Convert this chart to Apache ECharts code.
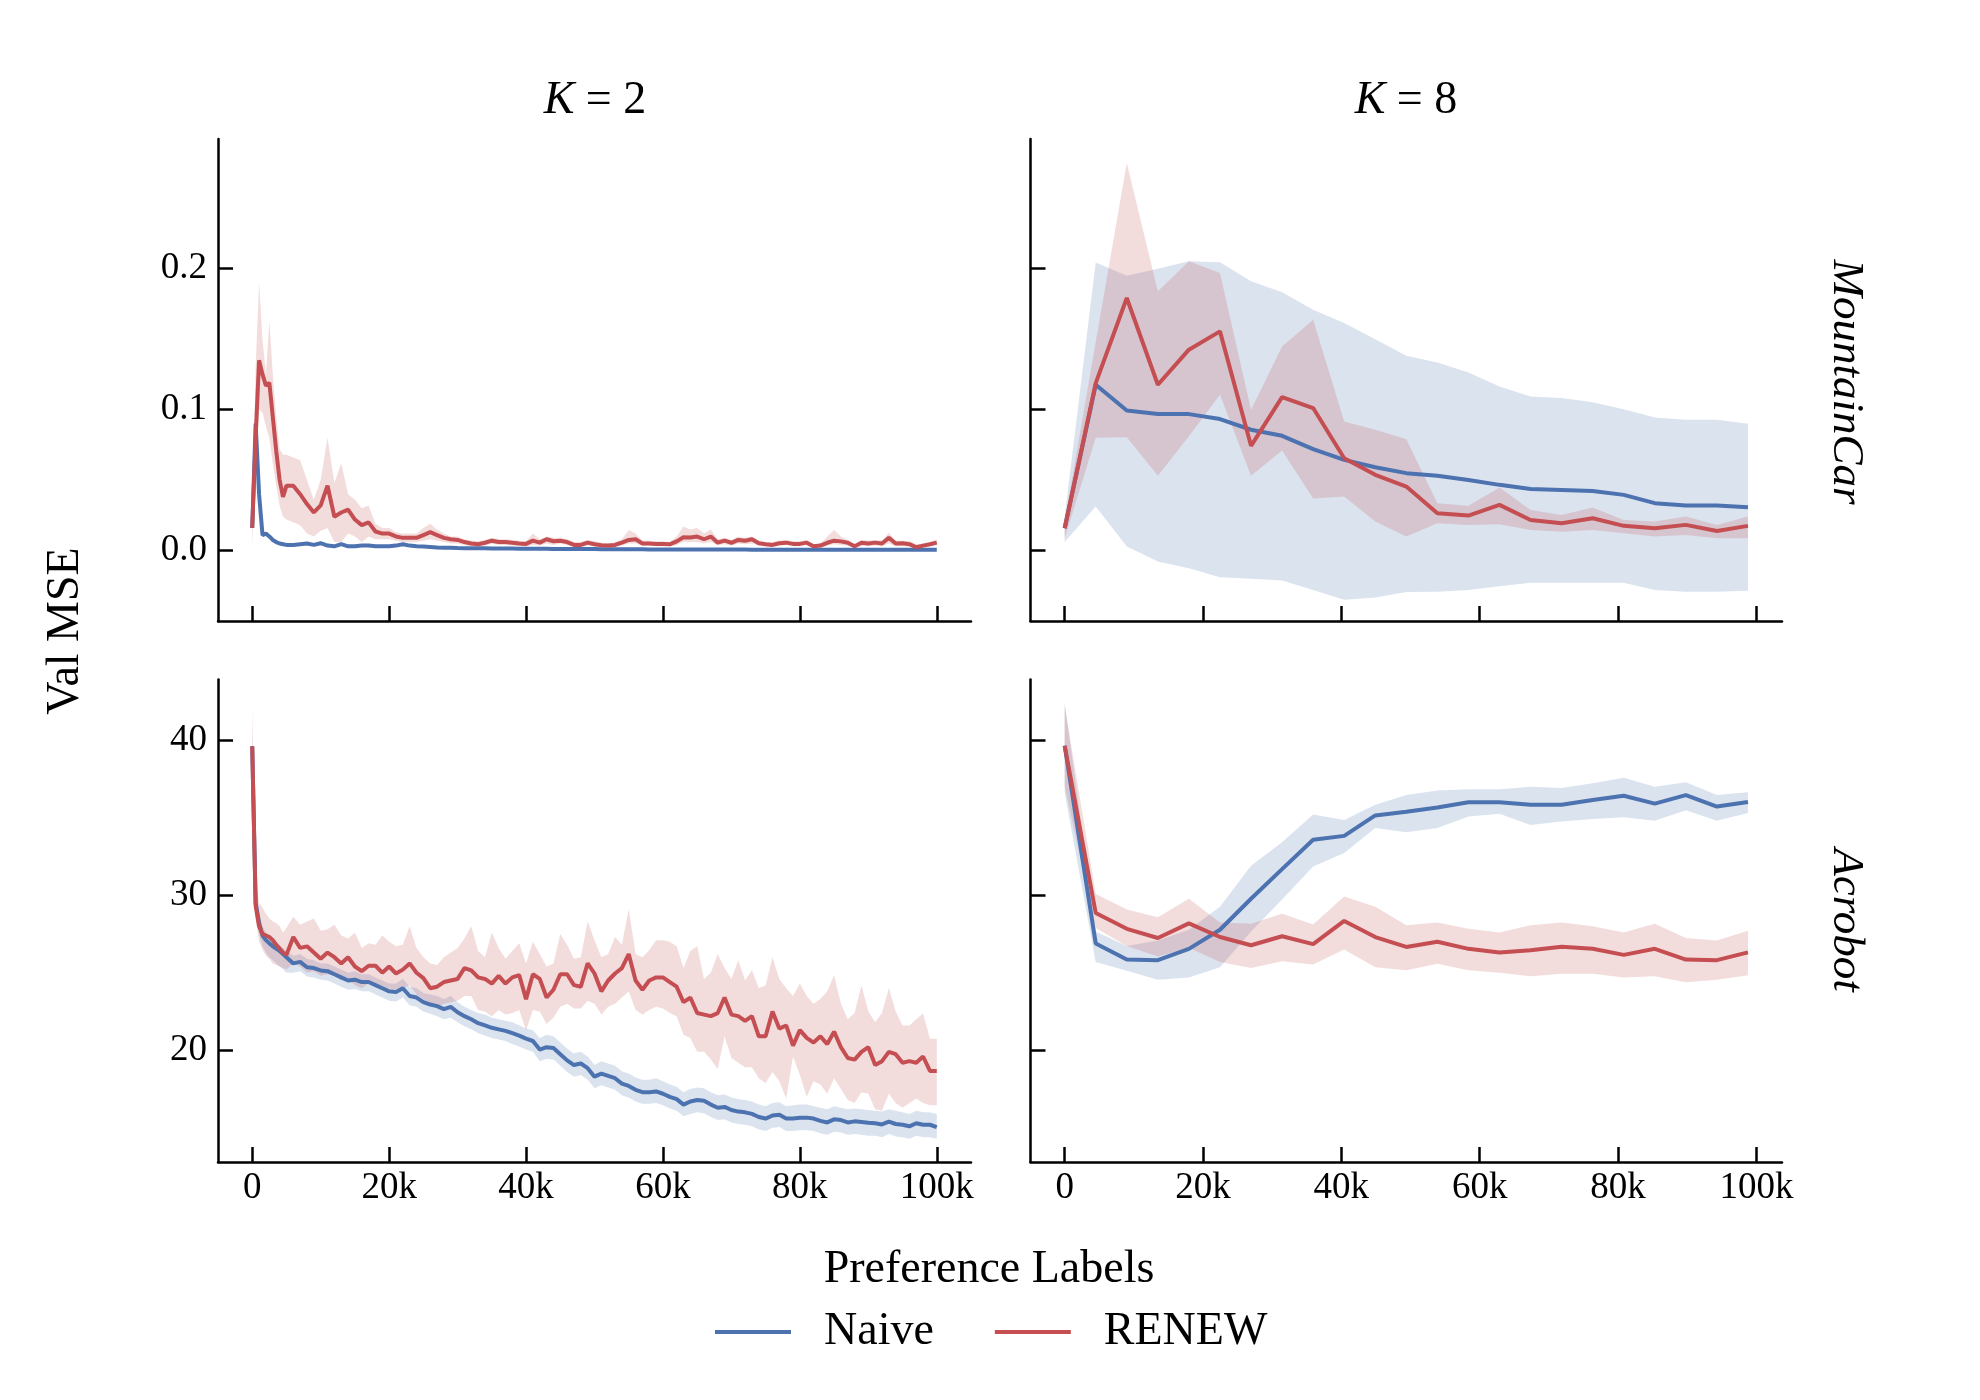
<!DOCTYPE html>
<html>
<head>
<meta charset="utf-8">
<title>Val MSE vs Preference Labels</title>
<script src="https://cdn.jsdelivr.net/npm/echarts@6/dist/echarts.min.js"></script>
<style>
  html, body { margin: 0; padding: 0; background: #fff; }
  #chart { width: 1980px; height: 1400px; }
</style>
</head>
<body>
<div id="chart"></div>
<script>
var FONT = 'Liberation Serif';
var BLUE = '#4C72B0', RED = '#C44E52';
var BLUE_BAND = 'rgba(76,114,176,0.2)', RED_BAND = 'rgba(196,78,82,0.2)';

// x positions: K=2 runs are logged every 500 labels at the start, then every 1000
var k2X = [];
for (var x = 0; x <= 5000; x += 500) k2X.push(x);
for (x = 6000; x <= 100000; x += 1000) k2X.push(x);
// K=8 runs: 23 evaluations
var k8X = [];
for (var i = 0; i < 23; i++) k8X.push(i * 4490);

var xTicks = [0, 20000, 40000, 60000, 80000, 100000];

// ---- MountainCar, K=2 ----
var mcK2RenewMean = [0.016, 0.080, 0.135, 0.125, 0.117, 0.119, 0.095, 0.071, 0.050, 0.038, 0.046,
  0.046, 0.040, 0.033, 0.027, 0.032, 0.046, 0.024, 0.027, 0.029, 0.022,
  0.018, 0.020, 0.0135, 0.012, 0.012, 0.010, 0.009, 0.009, 0.009, 0.011,
  0.013, 0.011, 0.009, 0.008, 0.0075, 0.006, 0.005, 0.0045, 0.0055, 0.007,
  0.006, 0.006, 0.0055, 0.005, 0.0047, 0.007, 0.0056, 0.008, 0.0066, 0.007,
  0.006, 0.004, 0.004, 0.0056, 0.0045, 0.0037, 0.0035, 0.004, 0.0056, 0.0075,
  0.008, 0.005, 0.005, 0.0047, 0.0047, 0.0044, 0.0065, 0.0094, 0.0092, 0.0099,
  0.008, 0.0099, 0.0056, 0.007, 0.0055, 0.0075, 0.007, 0.008, 0.0052, 0.0045,
  0.004, 0.0052, 0.0056, 0.0047, 0.0047, 0.0056, 0.003, 0.0035, 0.0055, 0.007,
  0.0065, 0.0055, 0.003, 0.0055, 0.005, 0.0056, 0.005, 0.009, 0.005, 0.0052,
  0.0045, 0.0023, 0.0035, 0.0045, 0.0056];
var mcK2RenewLo = [0.004, 0.055, 0.100, 0.098, 0.088, 0.080, 0.062, 0.046, 0.032, 0.024, 0.022,
  0.020, 0.018, 0.012, 0.010, 0.014, 0.016, 0.006, 0.006, 0.012, 0.010,
  0.006, 0.010, 0.008, 0.008, 0.008, 0.007, 0.006, 0.006, 0.006, 0.007,
  0.008, 0.007, 0.006, 0.005, 0.005, 0.004, 0.003, 0.003, 0.0035, 0.005,
  0.004, 0.004, 0.0035, 0.003, 0.003, 0.004, 0.0035, 0.005, 0.004, 0.005,
  0.004, 0.0025, 0.0025, 0.0035, 0.003, 0.002, 0.002, 0.0025, 0.0035, 0.005,
  0.005, 0.0035, 0.0035, 0.003, 0.003, 0.003, 0.004, 0.006, 0.006, 0.006,
  0.005, 0.006, 0.004, 0.0045, 0.0035, 0.005, 0.0045, 0.005, 0.0035, 0.003,
  0.0025, 0.0035, 0.004, 0.003, 0.003, 0.004, 0.0015, 0.002, 0.0035, 0.0045,
  0.004, 0.0035, 0.0015, 0.0035, 0.003, 0.0035, 0.003, 0.005, 0.003, 0.003,
  0.003, 0.001, 0.002, 0.003, 0.004];
var mcK2RenewHi = [0.028, 0.130, 0.190, 0.150, 0.125, 0.163, 0.125, 0.095, 0.072, 0.068, 0.068,
  0.066, 0.064, 0.050, 0.036, 0.050, 0.080, 0.048, 0.062, 0.040, 0.036,
  0.030, 0.032, 0.019, 0.016, 0.016, 0.013, 0.012, 0.012, 0.012, 0.016,
  0.019, 0.015, 0.012, 0.010, 0.010, 0.008, 0.007, 0.0065, 0.0075, 0.009,
  0.008, 0.008, 0.0075, 0.007, 0.0065, 0.012, 0.008, 0.010, 0.009, 0.009,
  0.008, 0.006, 0.006, 0.0075, 0.0065, 0.0055, 0.005, 0.006, 0.008, 0.0146,
  0.012, 0.007, 0.007, 0.0065, 0.0065, 0.006, 0.010, 0.017, 0.015, 0.016,
  0.012, 0.015, 0.008, 0.009, 0.0075, 0.010, 0.009, 0.010, 0.007, 0.006,
  0.006, 0.007, 0.0075, 0.0065, 0.0065, 0.0075, 0.0045, 0.005, 0.010, 0.0146,
  0.010, 0.0075, 0.0045, 0.0075, 0.007, 0.0075, 0.007, 0.0127, 0.007, 0.007,
  0.0065, 0.0045, 0.005, 0.006, 0.008];
var mcK2NaiveMean = [0.016, 0.090, 0.040, 0.011, 0.012, 0.010, 0.0075, 0.006, 0.005, 0.0045, 0.004,
  0.004, 0.0045, 0.005, 0.004, 0.0052, 0.0035, 0.003, 0.0045, 0.003, 0.003,
  0.0035, 0.0035, 0.003, 0.003, 0.003, 0.0035, 0.0045, 0.0035, 0.003, 0.0028,
  0.0025, 0.0022, 0.002, 0.002, 0.0018, 0.0017, 0.0016, 0.0016, 0.0017, 0.0015,
  0.0015, 0.0014, 0.0014, 0.0013, 0.0013, 0.0012, 0.0012, 0.0012, 0.0011, 0.0011,
  0.0011, 0.0010, 0.0010, 0.0010, 0.0010, 0.0009, 0.0009, 0.0009, 0.0009, 0.0009,
  0.0009, 0.0009, 0.0008, 0.0008, 0.0008, 0.0008, 0.0008, 0.0008, 0.0008, 0.0007,
  0.0007, 0.0007, 0.0007, 0.0007, 0.0007, 0.0007, 0.0007, 0.0006, 0.0006, 0.0006,
  0.0006, 0.0006, 0.0006, 0.0006, 0.0006, 0.0006, 0.0005, 0.0005, 0.0005, 0.0005,
  0.0005, 0.0005, 0.0005, 0.0005, 0.0005, 0.0005, 0.0005, 0.0005, 0.0005, 0.0005,
  0.0005, 0.0005, 0.0005, 0.0005, 0.0005];

// ---- Acrobot, K=2 ----
var acK2RenewMean = [39.6, 29.3, 28.0, 27.5, 27.4, 27.3, 27.1, 26.8, 26.55, 26.3, 26.15,
  27.3, 26.6, 26.7, 26.3, 25.9, 26.3, 26.0, 25.6, 26.0, 25.4,
  25.1, 25.45, 25.45, 25.0, 25.4, 24.95, 25.2, 25.6, 25.0, 24.65,
  24.0, 24.1, 24.4, 24.5, 24.6, 25.3, 25.15, 24.7, 24.6, 24.3,
  24.8, 24.3, 24.7, 24.85, 23.3, 24.9, 24.6, 23.4, 23.9, 24.9,
  24.9, 24.2, 24.1, 25.6, 24.95, 23.8, 24.5, 24.95, 25.3, 26.2,
  24.5, 23.9, 24.5, 24.7, 24.7, 24.4, 24.1, 23.1, 23.4, 22.4,
  22.3, 22.2, 22.4, 23.4, 22.3, 22.2, 21.9, 22.2, 20.9, 20.9,
  22.5, 21.4, 21.6, 20.3, 21.3, 20.8, 20.5, 20.9, 20.4, 21.2,
  20.2, 19.5, 19.4, 19.9, 20.2, 19.05, 19.3, 19.9, 19.75, 19.2,
  19.3, 19.2, 19.6, 18.67, 18.67];
var acK2RenewLo = [38.5, 28.4, 27.0, 26.5, 26.1, 25.9, 25.6, 25.5, 25.4, 25.3, 25.2,
  25.6, 25.4, 25.0, 25.1, 24.8, 24.9, 24.8, 24.5, 24.6, 24.2,
  24.0, 24.3, 24.2, 23.9, 24.0, 23.8, 24.0, 24.2, 23.6, 23.3,
  22.9, 22.8, 23.0, 23.1, 23.2, 23.5, 23.5, 22.6, 22.5, 22.2,
  22.6, 22.3, 22.4, 22.6, 21.3, 22.6, 22.5, 21.7, 22.1, 22.8,
  23.0, 22.7, 22.7, 23.2, 23.0, 22.3, 22.8, 23.0, 23.4, 23.8,
  22.6, 22.3, 22.6, 22.8, 22.7, 22.4, 22.2, 21.0, 20.8, 19.9,
  19.9, 19.4, 18.8, 20.9, 19.5, 19.2, 18.9, 18.9, 18.2, 17.9,
  18.6, 18.0, 16.9, 19.6, 18.4, 17.0, 18.0, 17.8, 17.2, 18.2,
  17.5, 16.8, 16.6, 17.3, 17.2, 16.2, 16.1, 17.2, 16.6, 16.3,
  16.6, 16.9, 16.6, 16.45, 16.45];
var acK2RenewHi = [42.2, 31.0, 29.5, 29.2, 28.8, 28.5, 28.3, 28.2, 28.0, 27.6, 27.9,
  28.6, 28.1, 28.3, 28.5, 27.7, 27.8, 28.1, 27.4, 27.2, 27.6,
  26.6, 26.9, 26.8, 27.4, 27.0, 26.7, 26.8, 28.0, 26.6, 26.0,
  25.6, 25.5, 26.0, 26.3, 26.6, 27.2, 28.0, 26.4, 26.0, 27.6,
  26.6, 25.9, 26.4, 26.9, 25.6, 27.0, 26.2, 25.4, 25.6, 27.5,
  26.8, 25.9, 26.0, 28.3, 27.1, 26.0, 26.2, 27.3, 26.8, 29.1,
  26.2, 26.0, 26.45, 27.1, 27.1, 27.0, 26.7, 25.3, 26.4, 26.7,
  24.6, 25.0, 26.2, 25.3, 24.6, 25.8, 24.5, 25.16, 24.0, 24.2,
  26.0, 24.6, 24.0, 23.5, 24.3, 23.5, 23.0, 23.3, 23.8, 24.84,
  23.0, 22.0, 22.4, 24.2, 22.5, 21.8, 22.4, 24.0, 22.5, 21.6,
  21.6, 22.0, 22.37, 20.75, 20.75];
var acK2NaiveMean = [39.6, 29.5, 28.2, 27.4, 27.1, 26.9, 26.7, 26.56, 26.4, 26.2, 26.0,
  25.6, 25.7, 25.35, 25.3, 25.15, 25.1, 24.9, 24.7, 24.5, 24.55,
  24.4, 24.4, 24.2, 24.0, 23.8, 23.75, 24.0, 23.5, 23.4, 23.1,
  22.95, 22.85, 22.65, 22.8, 22.45, 22.2, 22.0, 21.75, 21.6, 21.45,
  21.35, 21.25, 21.1, 20.95, 20.75, 20.6, 20.05, 20.2, 20.15, 19.75,
  19.35, 19.05, 19.15, 18.85, 18.3, 18.5, 18.35, 18.2, 17.85, 17.7,
  17.45, 17.3, 17.3, 17.35, 17.2, 17.0, 16.85, 16.5, 16.7, 16.8,
  16.75, 16.5, 16.3, 16.35, 16.15, 16.05, 16.0, 15.9, 15.7, 15.6,
  15.8, 15.85, 15.6, 15.6, 15.65, 15.66, 15.6, 15.45, 15.35, 15.55,
  15.5, 15.35, 15.42, 15.38, 15.33, 15.3, 15.22, 15.4, 15.25, 15.2,
  15.1, 15.3, 15.2, 15.2, 15.05];
var acK2NaiveLo = [38.8, 28.8, 27.5, 26.7, 26.3, 26.0, 25.8, 25.6, 25.4, 25.2, 25.0,
  25.0, 25.1, 24.75, 24.7, 24.55, 24.5, 24.3, 24.1, 23.9, 23.95,
  23.8, 23.8, 23.6, 23.4, 23.2, 23.15, 23.4, 22.9, 22.8, 22.5,
  22.35, 22.2, 22.0, 22.1, 21.8, 21.55, 21.35, 21.1, 20.95, 20.8,
  20.7, 20.6, 20.4, 20.25, 20.05, 19.9, 19.3, 19.45, 19.4, 19.0,
  18.6, 18.3, 18.4, 18.1, 17.55, 17.75, 17.6, 17.45, 17.1, 16.95,
  16.7, 16.55, 16.55, 16.6, 16.45, 16.25, 16.1, 15.75, 15.9, 16.0,
  15.95, 15.7, 15.5, 15.55, 15.35, 15.25, 15.2, 15.1, 14.9, 14.8,
  15.0, 15.05, 14.8, 14.8, 14.85, 14.85, 14.8, 14.65, 14.55, 14.75,
  14.7, 14.55, 14.6, 14.55, 14.5, 14.5, 14.4, 14.6, 14.45, 14.4,
  14.3, 14.5, 14.4, 14.4, 14.3];
var acK2NaiveHi = [40.5, 30.2, 28.8, 28.0, 27.6, 27.4, 27.2, 27.0, 26.8, 26.6, 26.4,
  26.1, 26.2, 25.9, 25.8, 25.6, 25.6, 25.4, 25.2, 25.0, 25.1,
  24.9, 24.9, 24.7, 24.5, 24.3, 24.3, 24.6, 24.1, 24.0, 23.7,
  23.6, 23.5, 23.3, 23.5, 23.1, 22.8, 22.6, 22.4, 22.3, 22.1,
  22.0, 21.9, 21.8, 21.6, 21.4, 21.3, 20.8, 21.0, 20.9, 20.5,
  20.1, 19.8, 19.9, 19.6, 19.05, 19.3, 19.15, 19.0, 18.65, 18.5,
  18.25, 18.1, 18.1, 18.2, 18.0, 17.8, 17.65, 17.3, 17.5, 17.6,
  17.55, 17.3, 17.1, 17.15, 16.95, 16.85, 16.8, 16.7, 16.5, 16.4,
  16.6, 16.65, 16.4, 16.45, 16.5, 16.5, 16.4, 16.3, 16.2, 16.4,
  16.3, 16.2, 16.25, 16.2, 16.15, 16.1, 16.05, 16.2, 16.1, 16.0,
  15.9, 16.1, 16.0, 16.0, 15.9];

// ---- MountainCar, K=8 ----
var mcK8NaiveMean = [0.0158, 0.1176, 0.0994, 0.0968, 0.0968, 0.0933, 0.0857, 0.0814, 0.0719, 0.0643, 0.0591, 0.0549,
  0.053, 0.0501, 0.0466, 0.0437, 0.043, 0.0423, 0.0395, 0.0336, 0.0319, 0.0319, 0.0307];
var mcK8NaiveLo = [0.006, 0.0312, 0.0028, -0.0078, -0.0126, -0.019, -0.020, -0.0213, -0.028, -0.035, -0.0333, -0.0295,
  -0.0293, -0.028, -0.0253, -0.0229, -0.0229, -0.0229, -0.0229, -0.028, -0.0293, -0.0293, -0.0286];
var mcK8NaiveHi = [0.024, 0.2044, 0.195, 0.1999, 0.2053, 0.2046, 0.191, 0.1832, 0.1709, 0.1614, 0.150, 0.1382,
  0.1335, 0.1264, 0.1164, 0.1093, 0.1082, 0.1053, 0.1003, 0.0944, 0.0928, 0.0928, 0.0899];
var mcK8RenewMean = [0.0158, 0.1188, 0.1792, 0.1176, 0.1425, 0.1555, 0.0743, 0.1089, 0.1011, 0.0655, 0.0537, 0.0454,
  0.0265, 0.0248, 0.0324, 0.0217, 0.0194, 0.0229, 0.0175, 0.0158, 0.0182, 0.0139, 0.0175];
var mcK8RenewLo = [0.0087, 0.080, 0.0804, 0.053, 0.081, 0.1105, 0.053, 0.071, 0.037, 0.0383, 0.0206, 0.0099,
  0.0194, 0.0182, 0.0187, 0.0146, 0.0134, 0.0146, 0.0123, 0.0099, 0.0111, 0.0087, 0.0087];
var mcK8RenewHi = [0.0206, 0.148, 0.275, 0.184, 0.2053, 0.197, 0.0999, 0.1448, 0.1638, 0.0916, 0.0857, 0.079,
  0.0336, 0.0317, 0.0447, 0.0288, 0.0253, 0.0305, 0.0217, 0.0206, 0.0241, 0.0182, 0.0241];

// ---- Acrobot, K=8 ----
var acK8NaiveMean = [39.63, 26.89, 25.85, 25.81, 26.54, 27.77, 29.77, 31.68, 33.57, 33.82, 35.14, 35.37,
  35.65, 35.99, 35.99, 35.83, 35.83, 36.13, 36.41, 35.9, 36.45, 35.71, 36.01];
var acK8NaiveLo = [36.6, 25.69, 25.12, 24.54, 24.7, 25.35, 27.65, 29.72, 31.84, 32.72, 34.33, 34.06,
  34.33, 35.07, 35.25, 34.52, 34.75, 34.91, 35.02, 34.79, 35.48, 34.79, 35.3];
var acK8NaiveHi = [42.4, 27.65, 26.73, 27.07, 27.77, 29.26, 31.9, 33.41, 35.2, 34.84, 35.83, 36.45,
  36.75, 36.82, 36.82, 36.98, 36.91, 37.21, 37.56, 36.98, 37.28, 36.45, 36.64];
var acK8RenewMean = [39.63, 28.85, 27.83, 27.24, 28.18, 27.3, 26.77, 27.35, 26.84, 28.34, 27.3, 26.66,
  27.0, 26.54, 26.31, 26.45, 26.68, 26.54, 26.15, 26.54, 25.85, 25.81, 26.31];
var acK8RenewLo = [37.0, 27.88, 26.73, 26.04, 26.61, 25.69, 25.3, 25.74, 25.53, 26.5, 25.35, 25.16,
  25.58, 25.16, 25.0, 24.77, 24.93, 24.93, 24.7, 24.77, 24.38, 24.54, 24.84];
var acK8RenewHi = [42.2, 30.07, 29.08, 28.57, 29.77, 28.23, 28.16, 28.8, 28.11, 29.91, 29.26, 28.06,
  28.23, 27.83, 27.6, 28.06, 28.23, 28.0, 27.6, 28.16, 27.24, 27.07, 27.7];

// ---- layout of the 2x2 panels ----
var panels = [
  { rect: [218, 139, 753, 482], xs: k2X, xr: [-5000, 105000], yr: [-0.05, 0.292], yt: [0, 0.1, 0.2],
    bottom: false, left: true,
    naive: mcK2NaiveMean, naiveLo: null, naiveHi: null,
    renew: mcK2RenewMean, renewLo: mcK2RenewLo, renewHi: mcK2RenewHi },
  { rect: [1030.5, 139, 751.5, 482], xs: k8X, xr: [-4940, 103700], yr: [-0.05, 0.292], yt: [0, 0.1, 0.2],
    bottom: false, left: false,
    naive: mcK8NaiveMean, naiveLo: mcK8NaiveLo, naiveHi: mcK8NaiveHi,
    renew: mcK8RenewMean, renewLo: mcK8RenewLo, renewHi: mcK8RenewHi },
  { rect: [218, 679.5, 753, 482.5], xs: k2X, xr: [-5000, 105000], yr: [12.8, 43.9], yt: [20, 30, 40],
    bottom: true, left: true,
    naive: acK2NaiveMean, naiveLo: acK2NaiveLo, naiveHi: acK2NaiveHi,
    renew: acK2RenewMean, renewLo: acK2RenewLo, renewHi: acK2RenewHi },
  { rect: [1030.5, 679.5, 751.5, 482.5], xs: k8X, xr: [-4940, 103700], yr: [12.8, 43.9], yt: [20, 30, 40],
    bottom: true, left: false,
    naive: acK8NaiveMean, naiveLo: acK8NaiveLo, naiveHi: acK8NaiveHi,
    renew: acK8RenewMean, renewLo: acK8RenewLo, renewHi: acK8RenewHi }
];

function pairs(xs, ys) {
  return xs.map(function (x, i) { return [x, ys[i]]; });
}

// shaded spread: one polygon through hi (left to right) and back along lo
function band(idx, xs, lo, hi, color) {
  var rows = xs.map(function (x, i) { return [x, lo[i], hi[i]]; });
  return {
    type: 'custom', xAxisIndex: idx, yAxisIndex: idx, silent: true,
    data: rows, encode: { x: 0, y: [1, 2] },
    renderItem: function (params, api) {
      if (params.dataIndex !== 0) return null;
      var pts = [];
      for (var i = 0; i < rows.length; i++) pts.push(api.coord([rows[i][0], rows[i][2]]));
      for (i = rows.length - 1; i >= 0; i--) pts.push(api.coord([rows[i][0], rows[i][1]]));
      return { type: 'polygon', shape: { points: pts }, style: { fill: color } };
    }
  };
}

function meanLine(name, idx, xs, ys, color) {
  return {
    name: name, type: 'line', xAxisIndex: idx, yAxisIndex: idx,
    data: pairs(xs, ys), symbol: 'none', showSymbol: false,
    color: color, lineStyle: { color: color, width: 4 }
  };
}

var grids = [], xAxes = [], yAxes = [], series = [];
var tickLine = { color: '#000', width: 2.5 };

panels.forEach(function (p, idx) {
  grids.push({ left: p.rect[0], top: p.rect[1], width: p.rect[2], height: p.rect[3] });
  xAxes.push({
    gridIndex: idx, type: 'value', min: p.xr[0], max: p.xr[1],
    axisLine: { show: true, onZero: false, lineStyle: tickLine },
    axisTick: { show: true, inside: true, length: 15, lineStyle: tickLine, customValues: xTicks },
    axisLabel: {
      show: p.bottom, customValues: xTicks, margin: 8,
      fontFamily: FONT, fontSize: 37, color: '#000',
      formatter: function (v) { return v === 0 ? '0' : (v / 1000) + 'k'; }
    },
    splitLine: { show: false }
  });
  yAxes.push({
    gridIndex: idx, type: 'value', min: p.yr[0], max: p.yr[1],
    axisLine: { show: true, onZero: false, lineStyle: tickLine },
    axisTick: { show: true, inside: true, length: 15, lineStyle: tickLine, customValues: p.yt },
    axisLabel: {
      show: p.left, customValues: p.yt, margin: 11,
      fontFamily: FONT, fontSize: 37, color: '#000',
      formatter: function (v) { return p.yt[2] < 1 ? v.toFixed(1) : String(v); }
    },
    splitLine: { show: false }
  });

  series.push(meanLine('Naive', idx, p.xs, p.naive, BLUE));
  if (p.naiveLo) series.push(band(idx, p.xs, p.naiveLo, p.naiveHi, BLUE_BAND));
  series.push(meanLine('RENEW', idx, p.xs, p.renew, RED));
  series.push(band(idx, p.xs, p.renewLo, p.renewHi, RED_BAND));
});

var txt = function (text, x, y, size, opts) {
  var el = {
    type: 'text', x: x, y: y, silent: true,
    style: Object.assign({
      text: text, fill: '#000',
      font: size + 'px "' + FONT + '"',
      align: 'center', verticalAlign: 'middle',
      textAlign: 'center', textVerticalAlign: 'middle'
    }, opts && opts.style)
  };
  if (opts && opts.rotation) el.rotation = opts.rotation;
  return el;
};

var richK = { k: { fontStyle: 'italic', fontSize: 46, fontFamily: FONT, fill: '#000' },
              n: { fontSize: 46, fontFamily: FONT, fill: '#000' } };

var option = {
  animation: false,
  backgroundColor: '#fff',
  grid: grids,
  xAxis: xAxes,
  yAxis: yAxes,
  legend: {
    data: ['Naive', 'RENEW'],
    left: 710, top: 1304,
    icon: 'rect', itemWidth: 76, itemHeight: 4, itemGap: 61,
    textStyle: { fontFamily: FONT, fontSize: 46, color: '#000', padding: [0, 0, 0, 28] }
  },
  graphic: [
    txt('{k|K}{n| = 2}', 595, 101, 46, { style: { rich: richK } }),
    txt('{k|K}{n| = 8}', 1406, 101, 46, { style: { rich: richK } }),
    txt('MountainCar', 1846, 382, 45, { rotation: -Math.PI / 2, style: { font: 'italic 45px "' + FONT + '"' } }),
    txt('Acrobot', 1846, 920, 45, { rotation: -Math.PI / 2, style: { font: 'italic 45px "' + FONT + '"' } }),
    txt('Val MSE', 66, 631, 46, { rotation: Math.PI / 2 }),
    txt('Preference Labels', 989, 1270, 46)
  ],
  series: series
};

var chart = echarts.init(document.getElementById('chart'), null, { renderer: 'canvas' });
chart.setOption(option);
</script>
</body>
</html>
